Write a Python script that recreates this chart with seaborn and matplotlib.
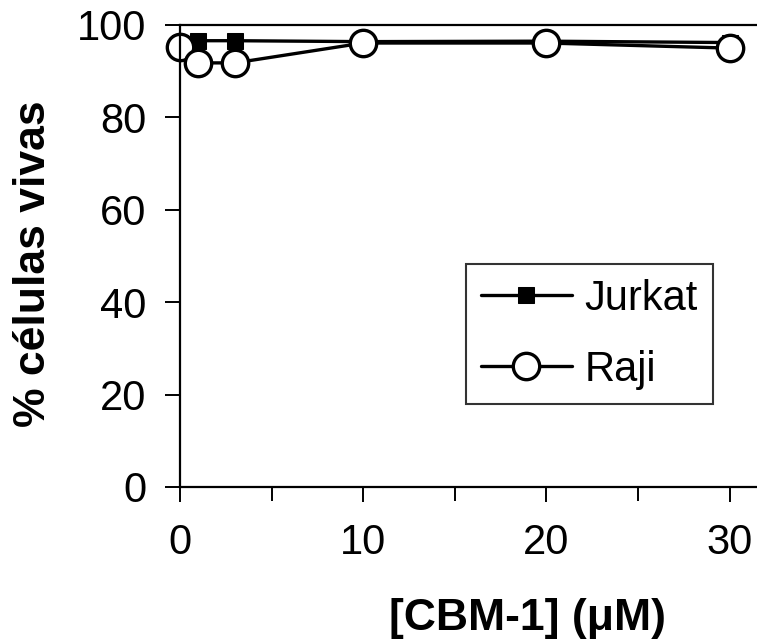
import pandas as pd
import seaborn as sns
import matplotlib.pyplot as plt

# Concentração de CBM-1 (uM) e % de células vivas
conc = [0, 1, 3, 10, 20, 30]
jurkat = [96.0, 96.6, 96.6, 96.4, 96.5, 96.2]
raji = [95.2, 91.8, 91.8, 96.1, 96.1, 95.0]

sns.set_theme(style="white")
plt.rcParams.update({
    "font.family": ["Liberation Sans", "DejaVu Sans"],
    "axes.edgecolor": "black",
    "axes.linewidth": 1.6,
    "xtick.color": "black",
    "ytick.color": "black",
    "text.color": "black",
    "axes.labelcolor": "black",
    "xtick.bottom": True,
    "ytick.left": True,
})

df_j = pd.DataFrame({"conc": conc, "viab": jurkat})
df_r = pd.DataFrame({"conc": conc, "viab": raji})

fig = plt.figure(figsize=(7.57, 6.40), dpi=100)
ax = fig.add_axes([180 / 757, 1 - 487 / 640, 577 / 757, 462 / 640])

sns.lineplot(data=df_j, x="conc", y="viab", ax=ax, color="black", linewidth=2.4,
             marker="s", markersize=11, markerfacecolor="black",
             markeredgecolor="black", label="Jurkat", clip_on=False)
sns.lineplot(data=df_r, x="conc", y="viab", ax=ax, color="black", linewidth=2.4,
             marker="o", markersize=19, markerfacecolor="white",
             markeredgecolor="black", markeredgewidth=2.4, label="Raji",
             clip_on=False)

ax.set_xlim(0, 31.5)
ax.set_ylim(0, 100)
ax.set_xticks([0, 10, 20, 30])
ax.set_xticks([5, 15, 25], minor=True)
ax.set_yticks([0, 20, 40, 60, 80, 100])

ax.spines["right"].set_visible(False)
ax.spines["top"].set_visible(True)

ax.tick_params(axis="both", which="major", labelsize=30, direction="out",
               length=11, width=1.4, colors="black")
ax.tick_params(axis="x", which="major", pad=15)
ax.tick_params(axis="x", which="minor", direction="out", length=10, width=1.4,
               bottom=True)
ax.tick_params(axis="y", which="major", pad=13)

ax.set_xlabel("[CBM-1] (\u03bcM)", fontsize=32, fontweight="bold")
ax.set_ylabel("% células vivas", fontsize=32, fontweight="bold")
ax.xaxis.set_label_coords(0.603, -0.24)
ax.yaxis.set_label_coords(-0.218, 0.484)

leg = ax.legend(loc="upper left", bbox_to_anchor=(466 / 757, 1 - 264 / 640),
                bbox_transform=fig.transFigure, fontsize=30, frameon=True,
                fancybox=False, edgecolor="black", handlelength=2.2,
                handletextpad=0.3, borderpad=0.35, labelspacing=0.75,
                borderaxespad=0)
leg.get_frame().set_linewidth(1.5)

fig.savefig("out.png", dpi=100)
